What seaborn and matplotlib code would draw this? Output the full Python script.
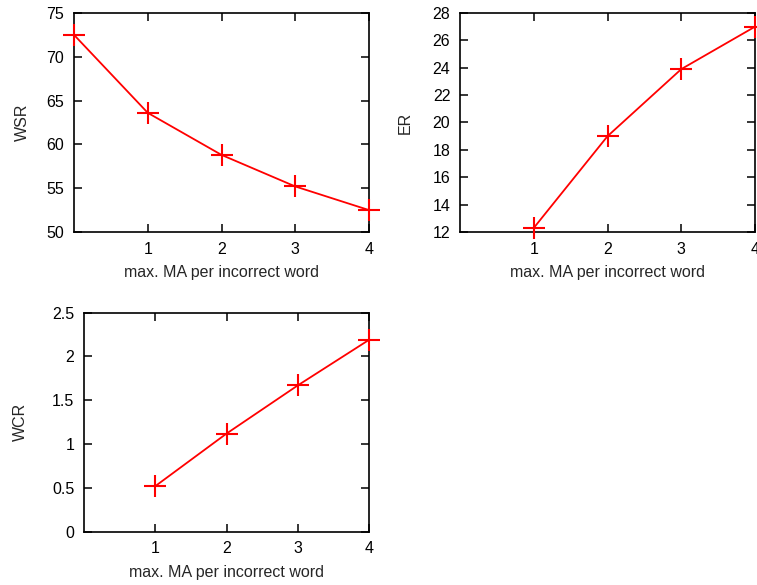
import numpy as np
import pandas as pd
import matplotlib
matplotlib.use("Agg")
import matplotlib.pyplot as plt
import seaborn as sns

# values
ma_all = [0, 1, 2, 3, 4]
ma_pos = [1, 2, 3, 4]
wsr = [72.5, 63.6, 58.8, 55.2, 52.5]
er = [12.3, 19.0, 23.9, 27.0]
wcr = [0.52, 1.12, 1.67, 2.19]

xlabel = "max. MA per incorrect word"

sns.set_style("ticks")
plt.rcParams["font.family"] = ["Liberation Sans", "DejaVu Sans"]
fs = 11.5

fig = plt.figure(figsize=(7.57, 5.85), dpi=100)

ax_wsr = fig.add_axes([0.0978, 0.6034, 0.3897, 0.3744])
ax_er = fig.add_axes([0.6077, 0.6034, 0.3897, 0.3744])
ax_wcr = fig.add_axes([0.1110, 0.0911, 0.3765, 0.3744])

# axis, x, y, y label, y limits, y ticks, y label x position (axes coords)
panels = [
    (ax_wsr, ma_all, wsr, "WSR", (50, 75), np.arange(50, 76, 5), -0.150),
    (ax_er, ma_pos, er, "ER", (12, 28), np.arange(12, 29, 2), -0.160),
    (ax_wcr, ma_pos, wcr, "WCR", (0, 2.5), [0, 0.5, 1, 1.5, 2, 2.5], -0.197),
]

for ax, xs, ys, name, ylim, yticks, ylab_x in panels:
    df = pd.DataFrame({"x": xs, "y": ys})
    # markers sit on top of the frame like gnuplot draws them
    sns.lineplot(data=df, x="x", y="y", ax=ax, color="#ff0000", linewidth=1.3,
                 marker="+", markersize=16, markeredgewidth=1.5,
                 markeredgecolor="#ff0000", clip_on=False, zorder=3)
    ax.set_xlim(0, 4)
    ax.set_ylim(*ylim)
    ax.set_xticks([1, 2, 3, 4])
    ax.set_xticklabels(["1", "2", "3", "4"])
    ax.set_yticks(yticks)
    ax.set_yticklabels([("%g" % t) for t in yticks])
    ax.set_xlabel(xlabel, fontsize=fs, labelpad=6)
    ax.set_ylabel(name, fontsize=fs)
    ax.yaxis.set_label_coords(ylab_x, 0.5)
    for sp in ax.spines.values():
        sp.set_visible(True)
        sp.set_linewidth(1.2)
        sp.set_color("black")
    ax.tick_params(direction="in", length=6, width=1.1, top=True, right=True,
                   labelsize=fs, colors="black", pad=7)

fig.savefig("out.png", dpi=100)
